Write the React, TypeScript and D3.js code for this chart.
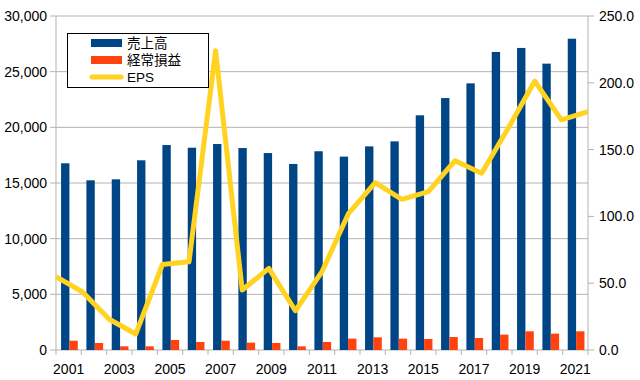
import React from "react";
import * as d3 from "d3";

const years = ["2001","2002","2003","2004","2005","2006","2007","2008","2009","2010","2011","2012","2013","2014","2015","2016","2017","2018","2019","2020","2021"];
const sales = [16770,15240,15330,17040,18410,18170,18500,18140,17690,16710,17850,17370,18290,18740,21080,22630,23950,26770,27130,25720,27960];
const ordinaryProfit = [835,630,330,330,900,720,835,660,630,330,720,1020,1140,1020,990,1170,1080,1380,1680,1470,1680];
const eps = [54.9,43.4,23,12,64,66,224,44.9,61.1,29.4,58.6,102.3,125.2,112.8,118.5,141.7,132.3,166,201.3,172.2,178.4];
const leftTicks = [0,5000,10000,15000,20000,25000,30000];
const rightTicks = [0,50,100,150,200,250];
const legendLabels = ["売上高","経常損益","EPS"];

const COLORS = { blue: "#004586", red: "#ff420e", yellow: "#ffd320", grid: "#b3b3b3" };
const W = 640, H = 380;
const M = { left: 56, right: 52, top: 16, bottom: 30 };
const FONT = "'Liberation Sans', Arial, 'Noto Sans CJK JP', sans-serif";

export default function App() {
  const x0 = M.left, x1 = W - M.right, y0 = H - M.bottom, y1 = M.top;
  const xBand = d3.scaleBand<string>().domain(years).range([x0, x1]).padding(0);
  const xPoint = d3.scalePoint<string>().domain(years).range([x0, x1]).padding(0);
  const yL = d3.scaleLinear().domain([0, 30000]).range([y0, y1]);
  const yR = d3.scaleLinear().domain([0, 250]).range([y0, y1]);
  const bw = xBand.bandwidth();
  const barW = bw * 0.33;
  const groupStart = bw * 0.2;
  const line = d3.line<number>().x((_, i) => xPoint(years[i])!).y(d => yR(d));
  const fmtL = d3.format(",");
  const fmtR = d3.format(".1f");

  const legendX = 67, legendY = 33, legendW = 141, legendH = 54;
  const rowY = [43, 60, 77];

  return (
    <div style={{ position: "absolute", left: 0, top: 0 }}>
      <svg width={W} height={H} style={{ display: "block", background: "#fff" }}>
        {leftTicks.map(t => (
          <g key={"g" + t}>
            <line x1={x0 - 6} x2={x1} y1={yL(t)} y2={yL(t)} stroke={COLORS.grid} strokeWidth={1} />
            <text x={47} y={yL(t)} dy="0.36em" textAnchor="end" fontFamily={FONT} fontSize={14} fill="#000">{fmtL(t)}</text>
          </g>
        ))}
        {rightTicks.map(t => (
          <g key={"r" + t}>
            <line x1={x1} x2={x1 + 6} y1={yR(t)} y2={yR(t)} stroke={COLORS.grid} strokeWidth={1} />
            <text x={599} y={yR(t)} dy="0.36em" textAnchor="start" fontFamily={FONT} fontSize={14} fill="#000">{fmtR(t)}</text>
          </g>
        ))}
        <line x1={x0} x2={x0} y1={y1} y2={y0} stroke={COLORS.grid} />
        <line x1={x1} x2={x1} y1={y1} y2={y0} stroke={COLORS.grid} />
        {years.map((yr) => (
          <line key={"xt" + yr} x1={xBand(yr)!} x2={xBand(yr)!} y1={y0} y2={y0 + 5} stroke={COLORS.grid} />
        ))}
        <line x1={x1} x2={x1} y1={y0} y2={y0 + 5} stroke={COLORS.grid} />
        {years.map((yr, i) => i % 2 === 0 ? (
          <text key={"xl" + yr} x={xBand(yr)! + bw / 2} y={374} textAnchor="middle" fontFamily={FONT} fontSize={14} fill="#000">{yr}</text>
        ) : null)}
        {years.map((yr, i) => (
          <g key={"b" + yr}>
            <rect x={xBand(yr)! + groupStart} y={yL(sales[i])} width={barW} height={y0 - yL(sales[i])} fill={COLORS.blue} />
            <rect x={xBand(yr)! + groupStart + barW} y={yL(ordinaryProfit[i])} width={barW} height={y0 - yL(ordinaryProfit[i])} fill={COLORS.red} />
          </g>
        ))}
        <path d={line(eps)!} fill="none" stroke={COLORS.yellow} strokeWidth={5} strokeLinejoin="round" />
        <g>
          <rect x={legendX + 0.5} y={legendY + 0.5} width={legendW} height={legendH} fill="#fff" stroke="#000" strokeWidth={1} />
          <rect x={91} y={rowY[0] - 4} width={31} height={8} fill={COLORS.blue} />
          <rect x={91} y={rowY[1] - 4} width={31} height={8} fill={COLORS.red} />
          <line x1={92} x2={121} y1={rowY[2]} y2={rowY[2]} stroke={COLORS.yellow} strokeWidth={5} strokeLinecap="round" />
          {legendLabels.map((l, i) => (
            <text key={l} x={127} y={rowY[i]} dy="0.36em" fontFamily={FONT} fontSize={13.5} fill="#000">{l}</text>
          ))}
        </g>
      </svg>
    </div>
  );
}
